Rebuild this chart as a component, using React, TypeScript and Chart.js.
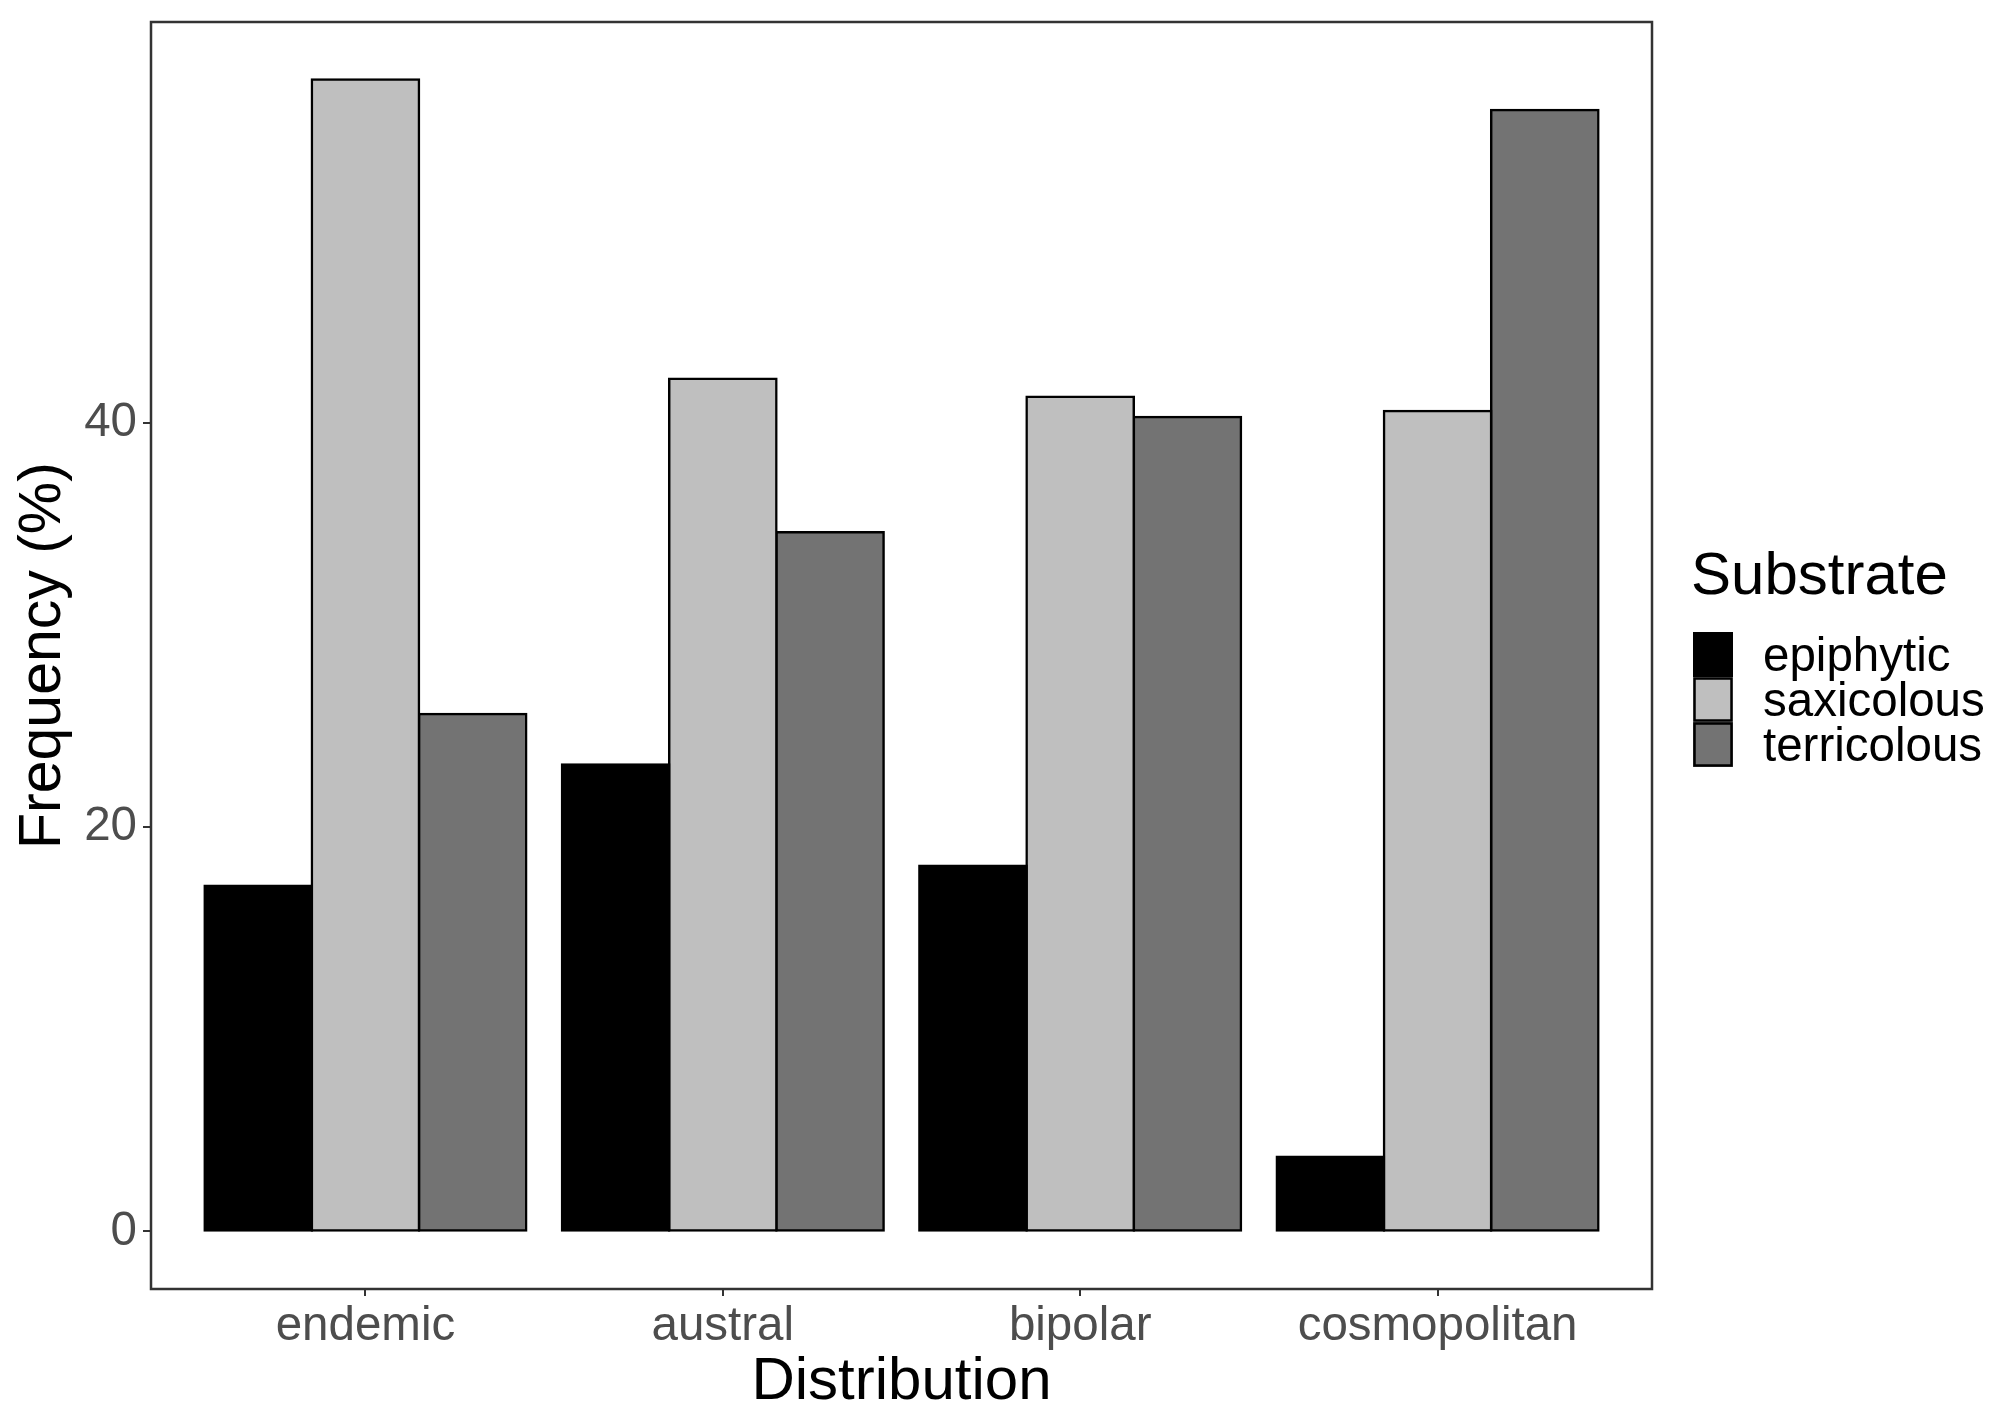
import React, { useEffect, useRef } from "react";
import { Chart, registerables } from "chart.js";

Chart.register(...registerables);

const categories = ["endemic", "austral", "bipolar", "cosmopolitan"];
const seriesNames = ["epiphytic", "saxicolous", "terricolous"];
const epiphytic = [17.1, 23.1, 18.1, 3.7];
const saxicolous = [57.0, 42.2, 41.3, 40.6];
const terricolous = [25.6, 34.6, 40.3, 55.5];
const seriesColors = ["#000000", "#bfbfbf", "#737373"];
const yTicks = [0, 20, 40];
const xTitle = "Distribution";
const yTitle = "Frequency (%)";
const legendTitle = "Substrate";

const FONT = "'Liberation Sans', Arial, Helvetica, sans-serif";

const allSeries = [epiphytic, saxicolous, terricolous];
const dataMax = Math.max(...allSeries.flat());
const yMin = -0.05 * dataMax;
const yMax = 1.05 * dataMax;

const panelLegendPlugin = {
  id: "panelLegend",
  afterDraw(chart: any) {
    const { ctx, chartArea: a } = chart;
    ctx.save();
    ctx.strokeStyle = "#333333";
    ctx.lineWidth = 2.5;
    ctx.strokeRect(a.left, a.top, a.right - a.left, a.bottom - a.top);

    const lx = a.right + 41;
    ctx.fillStyle = "#000000";
    ctx.font = `60px ${FONT}`;
    ctx.textAlign = "left";
    ctx.textBaseline = "alphabetic";
    ctx.fillText(legendTitle, lx - 2, 594);

    const keyW = 40;
    const keyH = 45;
    const top0 = 632;
    chart.data.datasets.forEach((ds: any, i: number) => {
      const y = top0 + i * keyH;
      ctx.fillStyle = ds.backgroundColor;
      ctx.fillRect(lx, y, keyW, keyH);
      ctx.strokeStyle = "#000000";
      ctx.lineWidth = 2.5;
      ctx.strokeRect(lx + 1.5, y + 1.5, keyW - 3, keyH - 3);
      ctx.fillStyle = "#000000";
      ctx.font = `47.5px ${FONT}`;
      ctx.textBaseline = "middle";
      ctx.fillText(ds.label, lx + 70, y + keyH / 2 + 3);
    });
    ctx.restore();
  },
};

export default function App() {
  const canvasRef = useRef<HTMLCanvasElement | null>(null);

  useEffect(() => {
    if (!canvasRef.current) return;
    const datasets = seriesNames.map((name, si) => ({
      label: name,
      data: categories.map((_, ci) => ({ x: ci + 1, y: allSeries[si][ci] })),
      backgroundColor: seriesColors[si],
      borderColor: "#000000",
      borderWidth: 2.5,
      borderSkipped: false as any,
      inflateAmount: 1.25,
      categoryPercentage: 0.9,
      barPercentage: 1.0,
    }));

    const chart = new Chart(canvasRef.current, {
      type: "bar",
      data: { datasets } as any,
      plugins: [panelLegendPlugin],
      options: {
        animation: false,
        responsive: true,
        maintainAspectRatio: false,
        layout: { padding: { top: 22, right: 345, left: 0, bottom: 0 } },
        plugins: {
          legend: { display: false },
          tooltip: { enabled: false },
          title: { display: false },
        },
        scales: {
          x: {
            type: "linear",
            min: 0.4,
            max: 4.6,
            offset: false,
            afterBuildTicks: (scale: any) => {
              scale.ticks = categories.map((_, i) => ({ value: i + 1 }));
            },
            afterFit: (scale: any) => {
              scale.height = 128;
              scale.paddingLeft = 0;
              scale.paddingRight = 0;
            },
            ticks: {
              color: "#4d4d4d",
              font: { family: FONT, size: 47.5, lineHeight: 1 },
              padding: 7,
              maxRotation: 0,
              autoSkip: false,
              callback: (v: any) => categories[Math.round(Number(v)) - 1] ?? "",
            },
            grid: {
              offset: false,
              drawOnChartArea: false,
              drawTicks: true,
              tickLength: 7,
              color: "#333333",
              lineWidth: 2,
            },
            border: { display: false },
            title: {
              display: true,
              text: xTitle,
              color: "#000000",
              font: { family: FONT, size: 60, lineHeight: 1 },
              padding: { top: 0, bottom: 5 },
            },
          },
          y: {
            type: "linear",
            min: yMin,
            max: yMax,
            afterBuildTicks: (scale: any) => {
              scale.ticks = yTicks.map((v) => ({ value: v }));
            },
            afterFit: (scale: any) => {
              scale.width = 151;
              scale.paddingTop = 0;
              scale.paddingBottom = 0;
            },
            ticks: {
              color: "#4d4d4d",
              font: { family: FONT, size: 47.5, lineHeight: 1 },
              padding: 6,
              callback: (v: any) => String(v),
            },
            grid: {
              drawOnChartArea: false,
              drawTicks: true,
              tickLength: 8,
              color: "#333333",
              lineWidth: 2,
            },
            border: { display: false },
            title: {
              display: true,
              text: yTitle,
              color: "#000000",
              font: { family: FONT, size: 59, lineHeight: 1 },
              padding: { top: 14, bottom: 0 },
            },
          },
        },
      } as any,
    });
    return () => chart.destroy();
  }, []);

  return (
    <div
      style={{
        position: "absolute",
        left: 0,
        top: 0,
        width: "1997px",
        height: "1417px",
        background: "#ffffff",
      }}
    >
      <canvas ref={canvasRef} />
    </div>
  );
}
